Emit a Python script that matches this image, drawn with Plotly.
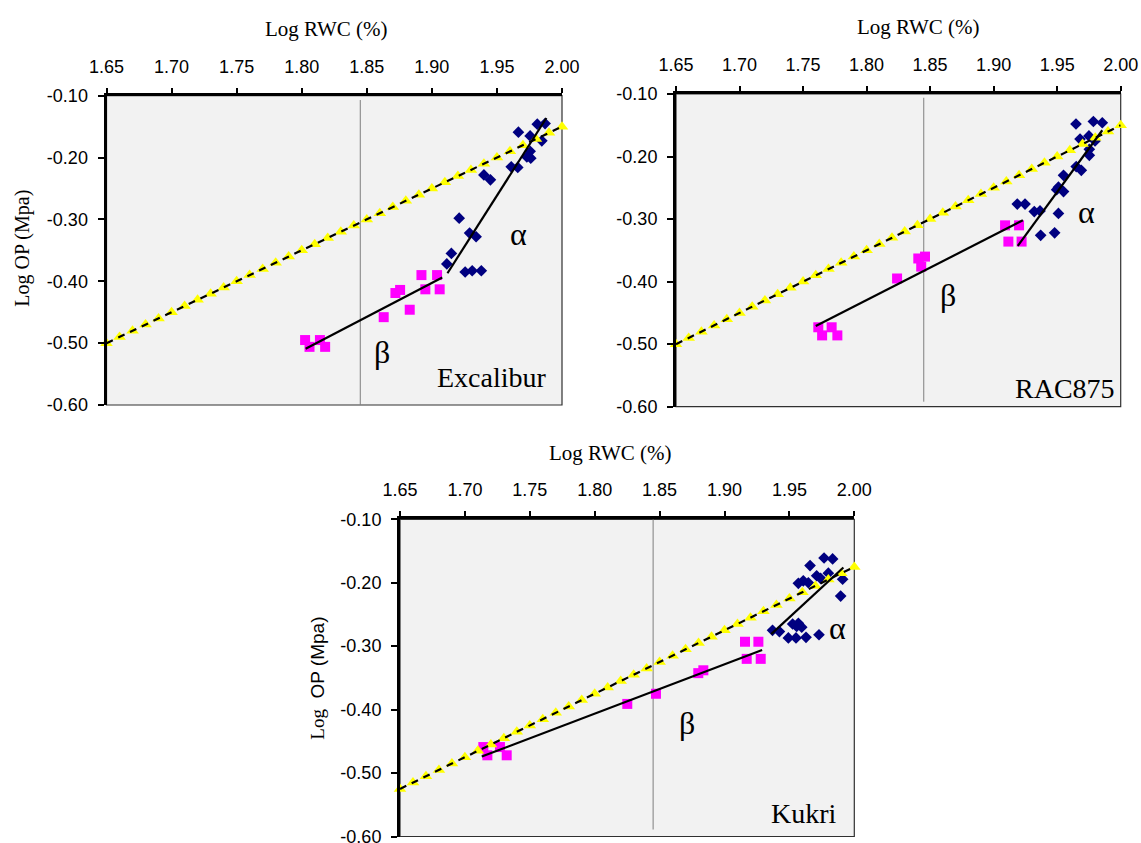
import plotly.graph_objects as go

# ---------------- data ----------------
ideal_x = [1.65, 1.66, 1.67, 1.68, 1.69, 1.70, 1.71, 1.72, 1.73, 1.74, 1.75, 1.76,
           1.77, 1.78, 1.79, 1.80, 1.81, 1.82, 1.83, 1.84, 1.85, 1.86, 1.87, 1.88,
           1.89, 1.90, 1.91, 1.92, 1.93, 1.94, 1.95, 1.96, 1.97, 1.98, 1.99, 2.00]
ideal_y_ex = [-0.50, -0.49, -0.48, -0.47, -0.46, -0.45, -0.44, -0.43, -0.42, -0.41, -0.40, -0.39,
              -0.38, -0.37, -0.36, -0.35, -0.34, -0.33, -0.32, -0.31, -0.30, -0.29, -0.28, -0.27,
              -0.26, -0.25, -0.24, -0.23, -0.22, -0.21, -0.20, -0.19, -0.18, -0.17, -0.16, -0.15]
ideal_y_rac = [-0.50, -0.49, -0.48, -0.47, -0.46, -0.45, -0.44, -0.43, -0.42, -0.41, -0.40, -0.39,
               -0.38, -0.37, -0.36, -0.35, -0.34, -0.33, -0.32, -0.31, -0.30, -0.29, -0.28, -0.27,
               -0.26, -0.25, -0.24, -0.23, -0.22, -0.21, -0.20, -0.19, -0.18, -0.17, -0.16, -0.15]
ideal_y_ku = [-0.525, -0.515, -0.505, -0.495, -0.485, -0.475, -0.465, -0.455, -0.445, -0.435, -0.425, -0.415,
              -0.405, -0.395, -0.385, -0.375, -0.365, -0.355, -0.345, -0.335, -0.325, -0.315, -0.305, -0.295,
              -0.285, -0.275, -0.265, -0.255, -0.245, -0.235, -0.225, -0.215, -0.205, -0.195, -0.185, -0.175]

# Excalibur
ex_alpha_x = [1.9665, 1.9755, 1.981, 1.987, 1.9845, 1.9755, 1.973, 1.976, 1.961, 1.966,
              1.940, 1.945, 1.921, 1.929, 1.934, 1.915, 1.9115, 1.9256, 1.931, 1.938]
ex_alpha_y = [-0.159, -0.165, -0.146, -0.145, -0.173, -0.190, -0.199, -0.201, -0.215, -0.216,
              -0.228, -0.236, -0.298, -0.322, -0.328, -0.355, -0.372, -0.385, -0.383, -0.383]
ex_beta_x = [1.8026, 1.806, 1.814, 1.818, 1.863, 1.872, 1.8756, 1.883, 1.892, 1.895, 1.904, 1.906]
ex_beta_y = [-0.495, -0.506, -0.495, -0.506, -0.458, -0.419, -0.414, -0.446, -0.390, -0.413, -0.390, -0.413]
ex_fit_alpha_x = [1.912, 1.988]
ex_fit_alpha_y = [-0.387, -0.136]
ex_fit_beta_x = [1.803, 1.908]
ex_fit_beta_y = [-0.509, -0.394]

# RAC875
rac_alpha_x = [1.9648, 1.9785, 1.9855, 1.968, 1.975, 1.9798, 1.9753, 1.9753, 1.969, 1.965, 1.955,
               1.951, 1.955, 1.9496, 1.9186, 1.9247, 1.932, 1.9365, 1.951, 1.937, 1.948]
rac_alpha_y = [-0.148, -0.144, -0.146, -0.172, -0.167, -0.175, -0.1885, -0.198, -0.222, -0.216, -0.230,
               -0.249, -0.256, -0.253, -0.276, -0.276, -0.288, -0.287, -0.291, -0.326, -0.322]
rac_beta_x = [1.909, 1.920, 1.9116, 1.922, 1.8407, 1.846, 1.843, 1.824, 1.762, 1.765, 1.7725, 1.777]
rac_beta_y = [-0.310, -0.310, -0.336, -0.336, -0.363, -0.360, -0.376, -0.395, -0.473, -0.486, -0.473, -0.486]
rac_fit_alpha_x = [1.919, 1.9855]
rac_fit_alpha_y = [-0.343, -0.158]
rac_fit_beta_x = [1.760, 1.923]
rac_fit_beta_y = [-0.471, -0.302]

# Kukri
ku_alpha_x = [1.9767, 1.9833, 1.9659, 1.9569, 1.9607, 1.9646, 1.971, 1.974, 1.980, 1.991, 1.9895,
              1.937, 1.9423, 1.9525, 1.9569, 1.9595, 1.9556, 1.9492, 1.9551, 1.9628, 1.9728]
ku_alpha_y = [-0.161, -0.1625, -0.173, -0.201, -0.197, -0.200, -0.189, -0.193, -0.185, -0.1945, -0.221,
              -0.275, -0.277, -0.265, -0.264, -0.270, -0.269, -0.287, -0.287, -0.286, -0.282]
ku_beta_x = [1.9158, 1.9261, 1.9171, 1.9279, 1.8798, 1.8837, 1.8472, 1.8251, 1.7142, 1.7173, 1.727, 1.7322]
ku_beta_y = [-0.293, -0.293, -0.320, -0.320, -0.3425, -0.338, -0.375, -0.391, -0.459, -0.472, -0.459, -0.472]
ku_fit_alpha_x = [1.936, 1.9916]
ku_fit_alpha_y = [-0.281, -0.176]
ku_fit_beta_x = [1.713, 1.929]
ku_fit_beta_y = [-0.474, -0.306]

# reference vertical line (log 70 %)
ref_x = [1.845, 1.845]
ref_y_ex = [-0.107, -0.600]
ref_y_rac = [-0.106, -0.592]
ref_y_ku = [-0.100, -0.589]

x_ticks = [1.65, 1.70, 1.75, 1.80, 1.85, 1.90, 1.95, 2.00]
x_tick_text = ["1.65", "1.70", "1.75", "1.80", "1.85", "1.90", "1.95", "2.00"]
y_ticks = [-0.10, -0.20, -0.30, -0.40, -0.50, -0.60]
y_tick_text = ["-0.10", "-0.20", "-0.30", "-0.40", "-0.50", "-0.60"]

panels = [
    dict(name="Excalibur", ax="", ideal_y=ideal_y_ex, ax_x=ex_alpha_x, ax_y=ex_alpha_y,
         b_x=ex_beta_x, b_y=ex_beta_y, fa_x=ex_fit_alpha_x, fa_y=ex_fit_alpha_y,
         fb_x=ex_fit_beta_x, fb_y=ex_fit_beta_y, ref_y=ref_y_ex,
         alpha_pos=(1.9666, -0.323), beta_pos=(1.8615, -0.514), name_pos=(1.946, -0.555),
         xdom=[106.5, 562], ydom=[95.7, 405]),
    dict(name="RAC875", ax="2", ideal_y=ideal_y_rac, ax_x=rac_alpha_x, ax_y=rac_alpha_y,
         b_x=rac_beta_x, b_y=rac_beta_y, fa_x=rac_fit_alpha_x, fa_y=rac_fit_alpha_y,
         fb_x=rac_fit_beta_x, fb_y=rac_fit_beta_y, ref_y=ref_y_rac,
         alpha_pos=(1.973, -0.288), beta_pos=(1.864, -0.422), name_pos=(1.956, -0.571),
         xdom=[676, 1120.7], ydom=[94, 406.7]),
    dict(name="Kukri", ax="3", ideal_y=ideal_y_ku, ax_x=ku_alpha_x, ax_y=ku_alpha_y,
         b_x=ku_beta_x, b_y=ku_beta_y, fa_x=ku_fit_alpha_x, fa_y=ku_fit_alpha_y,
         fb_x=ku_fit_beta_x, fb_y=ku_fit_beta_y, ref_y=ref_y_ku,
         alpha_pos=(1.987, -0.272), beta_pos=(1.8708, -0.421), name_pos=(1.961, -0.563),
         xdom=[400, 854.3], ydom=[519.3, 836.5]),
]

W, H = 1141, 843
SERIF = "Liberation Serif, Times New Roman, serif"
SANS = "Liberation Sans, Arial, sans-serif"

fig = go.Figure()
layout = dict(width=W, height=H, margin=dict(l=0, r=0, t=0, b=0, pad=0, autoexpand=False),
              paper_bgcolor="white", showlegend=False, annotations=[], shapes=[])

for p in panels:
    xa = "x" + p["ax"]
    ya = "y" + p["ax"]
    fig.add_trace(go.Scatter(x=ref_x, y=p["ref_y"], mode="lines",
                             line=dict(color="#7f7f7f", width=1), xaxis=xa, yaxis=ya,
                             hoverinfo="skip"))
    fig.add_trace(go.Scatter(x=p["b_x"], y=p["b_y"], mode="markers",
                             marker=dict(symbol="square", size=10, color="#ff00ff"),
                             xaxis=xa, yaxis=ya, cliponaxis=False))
    fig.add_trace(go.Scatter(x=p["ax_x"], y=p["ax_y"], mode="markers",
                             marker=dict(symbol="diamond", size=9, color="#000080"),
                             xaxis=xa, yaxis=ya, cliponaxis=False))
    # ideal line: yellow triangles with dashed black line over them
    fig.add_trace(go.Scatter(x=ideal_x, y=p["ideal_y"], mode="markers",
                             marker=dict(symbol="triangle-up", size=11, color="#ffff00"),
                             xaxis=xa, yaxis=ya, cliponaxis=False))
    fig.add_trace(go.Scatter(x=ideal_x, y=p["ideal_y"], mode="lines",
                             line=dict(color="black", width=2.2, dash="7px,6px"),
                             xaxis=xa, yaxis=ya, cliponaxis=False))
    fig.add_trace(go.Scatter(x=p["fb_x"], y=p["fb_y"], mode="lines",
                             line=dict(color="black", width=2.2), xaxis=xa, yaxis=ya))
    fig.add_trace(go.Scatter(x=p["fa_x"], y=p["fa_y"], mode="lines",
                             line=dict(color="black", width=2.2), xaxis=xa, yaxis=ya))

    x0, x1 = p["xdom"]
    y0, y1 = p["ydom"]
    xkey = "xaxis" + p["ax"]
    ykey = "yaxis" + p["ax"]
    layout[xkey] = dict(domain=[x0 / W, x1 / W], anchor=ya, side="top", range=[1.65, 2.00],
                        tickmode="array", tickvals=x_ticks, ticktext=x_tick_text,
                        ticks="outside", ticklen=5, automargin=False,
                        tickwidth=2, tickcolor="black", showline=True, linewidth=3,
                        linecolor="black", showgrid=False, zeroline=False,
                        tickfont=dict(family=SANS, size=18, color="black"),
                        ticklabelstandoff=8, ticklabeloverflow="allow")
    layout[ykey] = dict(domain=[1 - y1 / H, 1 - y0 / H], anchor=xa, range=[-0.60, -0.10],
                        tickmode="array", tickvals=y_ticks, ticktext=y_tick_text,
                        ticks="outside", ticklen=6, automargin=False,
                        tickwidth=2, tickcolor="black", showline=True, linewidth=3,
                        linecolor="black", showgrid=False, zeroline=False,
                        tickfont=dict(family=SANS, size=18, color="black"),
                        ticklabelstandoff=6, ticklabeloverflow="allow")
    layout["shapes"].append(dict(type="rect", xref="paper", yref="paper",
                                 x0=x0 / W, x1=x1 / W, y0=1 - y1 / H, y1=1 - y0 / H,
                                 line=dict(color="#303030", width=1.2), fillcolor="#f2f2f2",
                                 layer="below"))
    for txt, pos, size in [("α", p["alpha_pos"], 32), ("β", p["beta_pos"], 32),
                           (p["name"], p["name_pos"], 28)]:
        layout["annotations"].append(dict(text=txt, x=pos[0], y=pos[1], xref=xa, yref=ya,
                                          showarrow=False, xanchor="center", yanchor="middle",
                                          font=dict(family=SERIF, size=size, color="black")))

for cx, cy in [(326, 29), (918, 27), (610, 453)]:
    layout["annotations"].append(dict(text="Log RWC (%)", x=cx / W, y=1 - cy / H, xref="paper",
                                      yref="paper", showarrow=False, xanchor="center",
                                      yanchor="middle",
                                      font=dict(family=SERIF, size=21, color="black")))
layout["annotations"].append(dict(text="Log OP (Mpa)", x=22.7 / W, y=1 - 248 / H, xref="paper",
                                  yref="paper", showarrow=False, textangle=-90,
                                  xanchor="center", yanchor="middle",
                                  font=dict(family=SERIF, size=20, color="black")))
layout["annotations"].append(dict(text="<span style='font-family:Liberation Serif'>Log</span>  OP (Mpa)",
                                  x=316.7 / W, y=1 - 678 / H, xref="paper",
                                  yref="paper", showarrow=False, textangle=-90,
                                  xanchor="center", yanchor="middle",
                                  font=dict(family=SANS, size=19, color="black")))

fig.update_layout(**layout)
fig.update_layout(plot_bgcolor="rgba(0,0,0,0)")
fig.write_html("out.html")
